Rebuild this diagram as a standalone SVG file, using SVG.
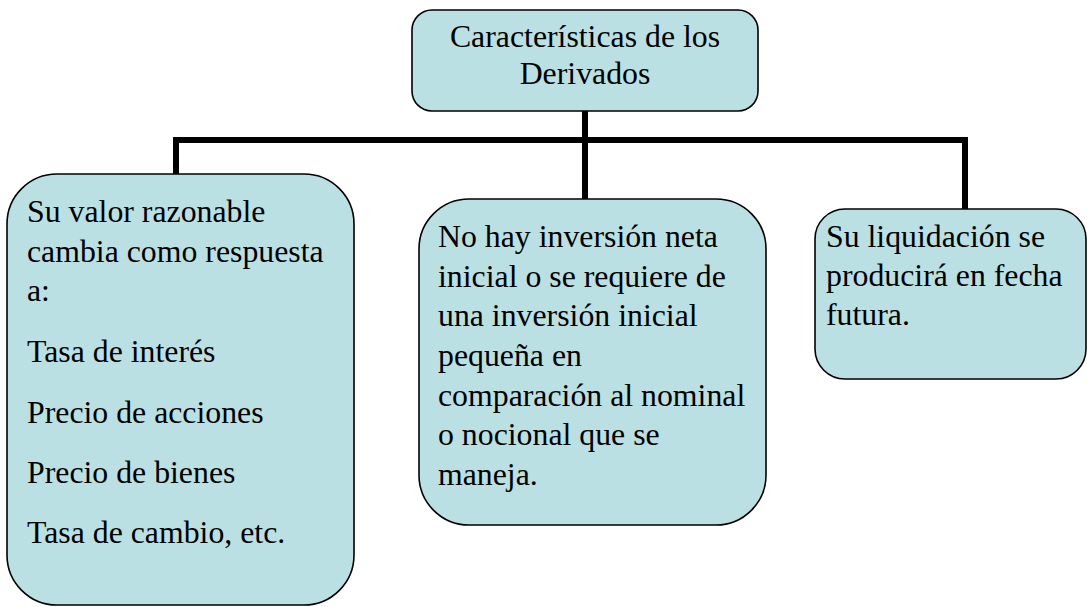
<svg xmlns="http://www.w3.org/2000/svg" width="1087" height="607" viewBox="0 0 1087 607">
<style>
.box{fill:#BBE0E3;stroke:#000;stroke-width:1.6}
.t{font-family:"Liberation Serif","Times New Roman",serif;font-size:31.8px;fill:#000}
.c{fill:none;stroke:#000;stroke-width:6}
</style>
<rect width="1087" height="607" fill="#fff"/>
<g id="connectors">
<path class="c" d="M176,199 V140 H965 V209"/>
<path class="c" d="M585,111 V199"/>
</g>
<g id="root">
<rect class="box" x="412" y="10" width="346" height="101" rx="20" ry="20"/>
<text class="t" x="585" y="47" text-anchor="middle">Características de los</text>
<text class="t" x="585" y="84" text-anchor="middle">Derivados</text>
</g>
<g id="left">
<rect class="box" x="7" y="174" width="347" height="431" rx="50" ry="50"/>
<text class="t" x="27" y="222">Su valor razonable</text>
<text class="t" x="27" y="262">cambia como respuesta</text>
<text class="t" x="27" y="301">a:</text>
<text class="t" x="27" y="362">Tasa de interés</text>
<text class="t" x="27" y="423">Precio de acciones</text>
<text class="t" x="27" y="483">Precio de bienes</text>
<text class="t" x="27" y="543">Tasa de cambio, etc.</text>
</g>
<g id="middle">
<rect class="box" x="419" y="199" width="347" height="326" rx="50" ry="50"/>
<text class="t" x="438" y="247">No hay inversión neta</text>
<text class="t" x="438" y="287">inicial o se requiere de</text>
<text class="t" x="438" y="326">una inversión inicial</text>
<text class="t" x="438" y="366">pequeña en</text>
<text class="t" x="438" y="406">comparación al nominal</text>
<text class="t" x="438" y="445">o nocional que se</text>
<text class="t" x="438" y="485">maneja.</text>
</g>
<g id="right">
<rect class="box" x="815" y="209" width="271" height="170" rx="30" ry="30"/>
<text class="t" x="826" y="247">Su liquidación se</text>
<text class="t" x="826" y="286">producirá en fecha</text>
<text class="t" x="826" y="325">futura.</text>
</g>
</svg>
